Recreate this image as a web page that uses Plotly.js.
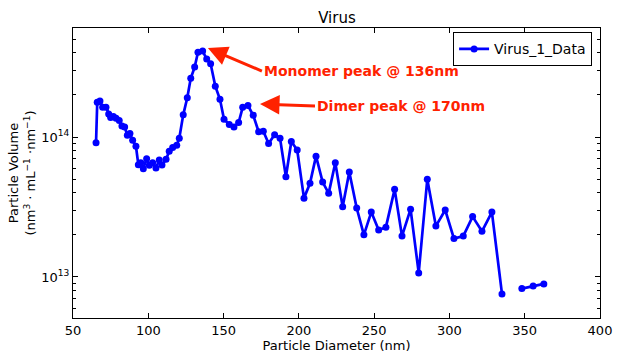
<!DOCTYPE html>
<html>
<head>
<meta charset="utf-8">
<script src="https://cdn.plot.ly/plotly-3.0.1.min.js"></script>
<style>html,body{margin:0;padding:0;background:#fff;}#chart{width:624px;height:360px;}</style>
</head>
<body>
<div id="chart"></div>
<script>
// Particle diameter (nm)
const diameter = [65.3, 66.1, 67.9, 69.7, 71.9, 73.7, 75.0, 76.8, 78.6, 80.7,
  82.5, 84.3, 86.1, 87.8, 89.6, 91.8, 93.4, 95.0, 96.7, 98.9,
  100.7, 102.9, 105.1, 107.3, 109.1, 111.8, 113.9, 116.2, 118.9, 120.6,
  123.2, 125.9, 128.2, 130.8, 133.0, 136.1, 138.8, 141.4, 144.5, 147.6,
  150.3, 153.8, 156.9, 160.0, 162.7, 166.2, 169.7, 173.3, 176.4, 179.9,
  183.9, 187.5, 191.4, 195.0, 198.9, 203.4, 207.4, 211.4, 215.8, 219.8,
  224.2, 229.1, 233.5, 238.4, 243.2, 248.1, 253.0, 257.8, 263.6, 268.5,
  274.2, 279.6, 285.3, 291.0, 297.2, 303.0, 309.2, 315.4, 321.6, 328.2,
  334.9, 341.5, 348.1, 355.6, 362.7];
// Particle volume (nm^3 mL^-1 nm^-1)
const volume = [9.1e13, 1.77e14, 1.81e14, 1.63e14, 1.63e14, 1.46e14, 1.38e14, 1.40e14, 1.36e14, 1.31e14,
  1.20e14, 1.18e14, 1.03e14, 1.06e14, 9.5e13, 8.6e13, 6.35e13, 6.55e13, 5.94e13, 7.0e13,
  6.28e13, 6.55e13, 6.0e13, 6.85e13, 6.3e13, 6.93e13, 7.9e13, 8.43e13, 8.73e13, 9.8e13,
  1.44e14, 1.91e14, 2.63e14, 3.16e14, 4.03e14, 4.11e14, 3.61e14, 3.34e14, 2.31e14, 1.86e14,
  1.34e14, 1.23e14, 1.18e14, 1.27e14, 1.63e14, 1.68e14, 1.43e14, 1.09e14, 1.10e14, 9.0e13,
  1.04e14, 9.8e13, 5.2e13, 9.3e13, 8.07e13, 3.66e13, 4.67e13, 7.3e13, 4.77e13, 3.96e13,
  6.55e13, 3.18e13, 5.62e13, 3.11e13, 2.0e13, 2.91e13, 2.17e13, 2.27e13, 4.23e13, 1.96e13,
  3.05e13, 1.07e13, 4.99e13, 2.31e13, 3.01e13, 1.88e13, 1.96e13, 2.70e13, 2.12e13, 2.91e13,
  7.57e12, null, 8.26e12, 8.63e12, 8.92e12];
const seriesName = 'Virus_1_Data';
const xTicks = [50, 100, 150, 200, 250, 300, 350, 400];
const yTickVals = [1e13, 1e14];
const yTickText = ['10<sup>13</sup>', '10<sup>14</sup>'];

const trace = {
  x: diameter, y: volume, name: seriesName, type: 'scatter', mode: 'lines+markers',
  line: {color: '#0000ff', width: 2.7},
  marker: {color: '#0000ff', size: 7},
  connectgaps: false
};

const red = '#ff2200';
const layout = {
  width: 624, height: 360,
  margin: {l: 73, r: 24, t: 28, b: 42},
  paper_bgcolor: '#fff', plot_bgcolor: '#fff',
  font: {family: 'DejaVu Sans', size: 12, color: '#000'},
  title: {text: 'Virus', x: 0.54, xanchor: 'center', y: 0.95, yanchor: 'middle', font: {size: 15}},
  showlegend: true,
  legend: {x: 0.985, xanchor: 'right', y: 0.985, yanchor: 'top', bgcolor: '#fff',
    bordercolor: '#000', borderwidth: 1, font: {size: 14}},
  xaxis: {
    range: [50, 400], tickvals: xTicks, ticks: 'inside', ticklen: 5, tickcolor: '#000',
    showline: true, linecolor: '#000', linewidth: 1, mirror: 'ticks', showgrid: false, zeroline: false,
    tickfont: {size: 13},
    title: {text: 'Particle Diameter (nm)', font: {size: 13}, standoff: 3}
  },
  yaxis: {
    type: 'log', range: [12.707, 14.779], tickvals: yTickVals, ticktext: yTickText,
    ticks: 'inside', ticklen: 5, tickcolor: '#000', tickfont: {size: 13},
    minor: {ticks: 'inside', ticklen: 3, tickcolor: '#000', dtick: 'D1'},
    showline: true, linecolor: '#000', linewidth: 1, mirror: 'ticks', showgrid: false, zeroline: false,
    title: {text: 'Particle Volume<br>(nm<sup>3</sup> · mL<sup>−1</sup> ·nm<sup>−1</sup>)', font: {size: 13}, standoff: 2}
  },
  annotations: [
    {x: 139.6, y: Math.log10(4.32e14), xref: 'x', yref: 'y', text: '<b>Monomer peak @ 136nm</b>',
      showarrow: true, arrowhead: 2, arrowsize: 1.3, arrowwidth: 3, arrowcolor: red,
      ax: 54, ay: 23, xanchor: 'left', yanchor: 'middle', font: {color: red, size: 14}},
    {x: 174.2, y: Math.log10(1.72e14), xref: 'x', yref: 'y', text: '<b>Dimer peak @ 170nm</b>',
      showarrow: true, arrowhead: 2, arrowsize: 1.3, arrowwidth: 3, arrowcolor: red,
      ax: 55, ay: 2, xanchor: 'left', yanchor: 'middle', font: {color: red, size: 14}}
  ]
};

Plotly.newPlot('chart', [trace], layout, {displayModeBar: false, staticPlot: true});
</script>
</body>
</html>
